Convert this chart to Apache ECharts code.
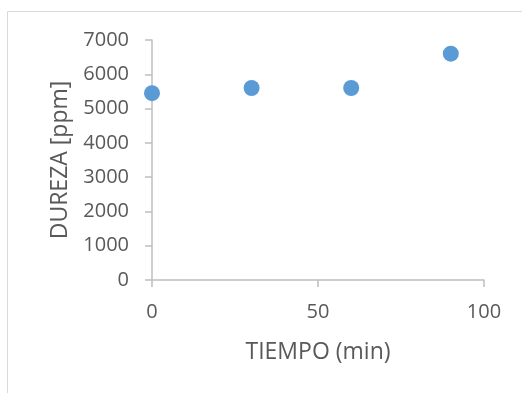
<!DOCTYPE html>
<html>
<head>
<meta charset="utf-8">
<script src="https://cdn.jsdelivr.net/npm/echarts@6/dist/echarts.min.js"></script>
<style>
html,body{margin:0;padding:0;background:#fff;}
#c{width:522px;height:393px;}
</style>
</head>
<body>
<div id="c"></div>
<script>
var tiempo = [0, 30, 60, 90];
var dureza = [5450, 5600, 5600, 6600];
var xName = 'TIEMPO (min)';
var yName = 'DUREZA [ppm]';

var chart = echarts.init(document.getElementById('c'), null, {renderer: 'canvas'});
var font = '"Open Sans", sans-serif';
var txt = '#595959';
var axisCol = '#bfbfbf';
chart.setOption({
  animation: false,
  backgroundColor: '#fff',
  graphic: [{
    type: 'rect',
    shape: {x: 7.5, y: 11.5, width: 600, height: 500},
    style: {fill: 'none', stroke: '#d9d9d9', lineWidth: 1},
    silent: true
  }],
  grid: {left: 152, right: 38, top: 40, bottom: 113, containLabel: false},
  xAxis: {
    type: 'value', min: 0, max: 100, interval: 50,
    name: xName, nameLocation: 'middle', nameGap: 61,
    nameTextStyle: {color: txt, fontSize: 23, fontFamily: font},
    axisLine: {show: true, onZero: false, lineStyle: {color: axisCol, width: 1.5}},
    axisTick: {show: true, length: 7, lineStyle: {color: axisCol, width: 1.5}},
    axisLabel: {color: txt, fontSize: 20, fontFamily: font, margin: 22,
      formatter: function (v) { return String(v); }},
    splitLine: {show: false}
  },
  yAxis: {
    type: 'value', min: 0, max: 7000, interval: 1000,
    name: yName, nameLocation: 'middle', nameGap: 77,
    nameTextStyle: {color: txt, fontSize: 23, fontFamily: font},
    axisLine: {show: true, lineStyle: {color: axisCol, width: 1.5}},
    axisTick: {show: true, length: 7, lineStyle: {color: axisCol, width: 1.5}},
    axisLabel: {color: txt, fontSize: 20, fontFamily: font, margin: 23,
      formatter: function (v) { return String(v); }},
    splitLine: {show: false}
  },
  series: [{
    type: 'scatter',
    data: tiempo.map(function (t, i) { return [t, dureza[i]]; }),
    symbol: 'circle', symbolSize: 16,
    itemStyle: {color: '#5b9bd5', opacity: 1}
  }]
});
</script>
</body>
</html>
